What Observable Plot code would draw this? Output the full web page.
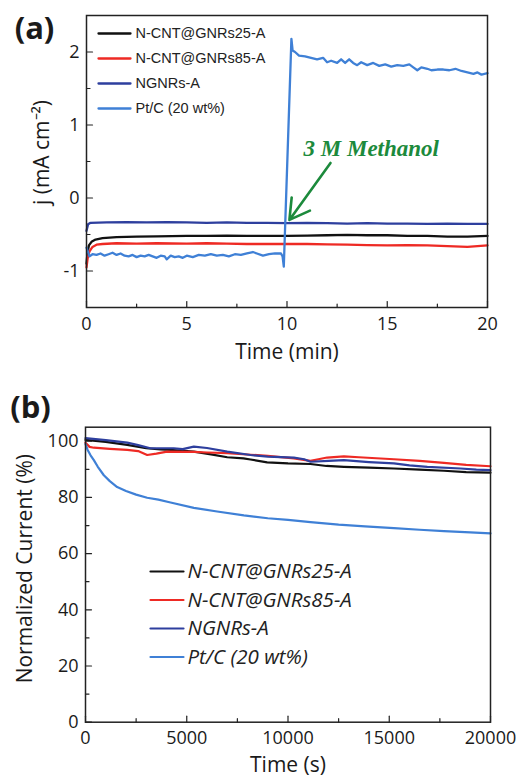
<!DOCTYPE html>
<html><head><meta charset="utf-8">
<script src="https://cdn.jsdelivr.net/npm/d3@7"></script>
<script src="https://cdn.jsdelivr.net/npm/@observablehq/plot@0.6"></script>
<style>body{margin:0;background:#fff;} svg{display:block;}</style>
</head><body><div id="chart"></div>
<script>
// ---------- shared ----------
const seriesNames = ["N-CNT@GNRs25-A", "N-CNT@GNRs85-A", "NGNRs-A", "Pt/C (20 wt%)"];
const seriesColors = ["#111111", "#ee2a24", "#2e3f9e", "#3f80d6"];

// ---------- panel (a): j (mA cm-2) vs Time (min) ----------
const a_cnt25 = [[0,-0.9],[0.05,-0.75],[0.12,-0.65],[0.25,-0.6],[0.45,-0.57],[0.8,-0.55],[1.5,-0.535],[2.5,-0.53],[3.5,-0.525],[5,-0.52],[6,-0.52],[7,-0.515],[8,-0.52],[9,-0.52],[10,-0.52],[11,-0.515],[12,-0.51],[13,-0.505],[14,-0.51],[15,-0.51],[16,-0.52],[17,-0.52],[18,-0.53],[19,-0.53],[20,-0.52]];
const a_cnt85 = [[0,-0.95],[0.06,-0.82],[0.15,-0.73],[0.3,-0.67],[0.5,-0.64],[0.8,-0.63],[1.5,-0.62],[2.5,-0.625],[3.5,-0.62],[5,-0.625],[6,-0.62],[7,-0.625],[8,-0.63],[9,-0.63],[10,-0.63],[11,-0.63],[12,-0.635],[13,-0.64],[14,-0.645],[15,-0.65],[16,-0.645],[17,-0.65],[18,-0.66],[19,-0.67],[19.5,-0.66],[20,-0.65]];
const a_ngnrs = [[0,-0.45],[0.08,-0.36],[0.2,-0.34],[1,-0.335],[2,-0.33],[3,-0.335],[4,-0.33],[5,-0.335],[6,-0.34],[7,-0.335],[8,-0.34],[9,-0.34],[10,-0.345],[11,-0.34],[12,-0.345],[13,-0.35],[14,-0.345],[15,-0.35],[16,-0.35],[17,-0.355],[18,-0.35],[19,-0.355],[20,-0.355]];
const a_ptc = [[0,-0.68],[0.15,-0.8],[0.3,-0.77],[0.5,-0.78],[0.7,-0.76],[0.9,-0.79],[1.1,-0.77],[1.3,-0.75],[1.5,-0.78],[1.7,-0.76],[1.9,-0.79],[2.1,-0.8],[2.3,-0.78],[2.5,-0.81],[2.7,-0.79],[2.9,-0.8],[3.1,-0.78],[3.3,-0.8],[3.5,-0.82],[3.7,-0.79],[3.9,-0.8],[4.0,-0.84],[4.2,-0.79],[4.4,-0.81],[4.6,-0.8],[4.8,-0.82],[5.0,-0.79],[5.3,-0.81],[5.6,-0.78],[5.9,-0.79],[6.2,-0.77],[6.5,-0.79],[6.8,-0.78],[7.1,-0.8],[7.4,-0.77],[7.7,-0.78],[8.0,-0.76],[8.3,-0.74],[8.5,-0.76],[8.8,-0.79],[9.1,-0.77],[9.4,-0.76],[9.7,-0.76],[9.78,-0.8],[9.84,-0.94],[10.22,2.18],[10.28,2.02],[10.4,2.0],[10.6,1.95],[10.9,1.94],[11.2,1.92],[11.5,1.9],[11.8,1.92],[12.0,1.86],[12.2,1.88],[12.5,1.85],[12.7,1.9],[12.9,1.85],[13.1,1.9],[13.3,1.85],[13.5,1.82],[13.7,1.86],[14.0,1.82],[14.3,1.85],[14.6,1.81],[14.9,1.83],[15.2,1.8],[15.5,1.82],[15.8,1.81],[16.1,1.83],[16.3,1.79],[16.5,1.75],[16.7,1.79],[17.0,1.77],[17.2,1.75],[17.5,1.76],[17.8,1.76],[18.1,1.75],[18.4,1.77],[18.7,1.74],[19.0,1.72],[19.3,1.7],[19.5,1.72],[19.7,1.69],[20,1.71]];
const aXDomain = [0, 20], aYDomain = [-1.5, 2.5];
const aXTicks = [0, 5, 10, 15, 20], aXMinor = [2.5, 7.5, 12.5, 17.5];
const aYTicks = [-1, 0, 1, 2], aYMinor = [-0.5, 0.5, 1.5];
const aNote = ["3 M Methanol"], aNoteX = [14.2], aNoteY = [0.68];
const aArrowFrom = [12.17, 0.48], aArrowTo = [10.12, -0.30];

// ---------- panel (b): Normalized Current (%) vs Time (s) ----------
const b_cnt25 = [[0,100.5],[1000,99.8],[2060,98.7],[3000,97.5],[3700,97.1],[4500,96.8],[5350,96.3],[6200,95.3],[7000,94.3],[7800,93.9],[8150,93.5],[8970,92.5],[10000,92.1],[11110,91.9],[11900,91.2],[12760,90.9],[14000,90.6],[15230,90.3],[16500,89.9],[17700,89.5],[18800,89.0],[20000,88.8]];
const b_cnt85 = [[0,99.5],[200,98],[412,97.7],[1200,97.3],[2060,96.9],[2600,96.5],[3045,95.1],[3500,95.6],[4030,96.3],[5350,96.2],[6000,96.0],[7000,95.8],[8150,95.2],[9000,94.8],[10290,93.9],[11110,93.0],[11500,93.6],[11930,94.2],[12760,94.6],[13500,94.3],[15230,93.6],[16500,93.0],[17700,92.3],[18800,91.6],[20000,91.1]];
const b_ngnrs = [[0,101.1],[1000,100.4],[2060,99.5],[2600,98.6],[3200,97.5],[4360,97.5],[4800,97.2],[5350,98.1],[6000,97.6],[7000,96.3],[8150,95.1],[9000,94.5],[10290,94.2],[10800,93.6],[11110,92.7],[12000,93.0],[12760,93.3],[14000,92.6],[15230,92.1],[16000,91.4],[16880,90.9],[18530,90.3],[19300,89.9],[20000,89.7]];
const b_ptc = [[0,99],[100,97],[250,95],[412,93.3],[600,91],[905,87.9],[1200,85.8],[1564,83.7],[2000,82.3],[2500,81],[3045,79.9],[3600,79.2],[4200,78.2],[5350,76.3],[6500,75],[7820,73.6],[9000,72.6],[10000,72],[11110,71.2],[12500,70.3],[13800,69.7],[15230,69.1],[16500,68.5],[17700,68],[19000,67.6],[20000,67.2]];
const bXDomain = [0, 20000], bYDomain = [0, 105];
const bXTicks = [0, 5000, 10000, 15000, 20000], bXMinor = [2500, 7500, 12500, 17500];
const bYTicks = [0, 20, 40, 60, 80, 100], bYMinor = [10, 30, 50, 70, 90];

// ---------- helpers ----------
const seg = {draw(ctx, l) { ctx.moveTo(0, 0); ctx.lineTo(0, -l); }};
const toRows = (arrs) => arrs.flatMap((arr, i) => arr.map(([t, v]) => ({series: seriesNames[i], t, v})));
const fmt = d => String(d);
const FONT = "'Open Sans', sans-serif";
const mid = {textAnchor: "middle", lineAnchor: "middle"};

function tickMarks(xMaj, xMin, yMaj, yMin) {
  const o = {shape: seg, anchor: "start", stroke: "#222", strokeWidth: 1.2};
  return [
    Plot.vector(xMaj, {...o, x: d => d, frameAnchor: "bottom", rotate: 0, length: 6}),
    Plot.vector(xMin, {...o, x: d => d, frameAnchor: "bottom", rotate: 0, length: 3.5}),
    Plot.vector(yMaj, {...o, y: d => d, frameAnchor: "left", rotate: 90, length: 6}),
    Plot.vector(yMin, {...o, y: d => d, frameAnchor: "left", rotate: 90, length: 3.5})
  ];
}

// ---------- plot (a) ----------
const dataA = toRows([a_cnt25, a_cnt85, a_ngnrs, a_ptc]);
const plotA = Plot.plot({
  width: 518, height: 375,
  marginLeft: 86, marginRight: 31, marginTop: 15, marginBottom: 68,
  style: {fontFamily: FONT, fontSize: "18px", color: "#1a1a1a", background: "#fff"},
  x: {domain: aXDomain},
  y: {domain: aYDomain},
  color: {domain: seriesNames, range: seriesColors},
  marks: [
    Plot.line(dataA, {x: "t", y: "v", z: "series", stroke: "series", strokeWidth: 2.3}),
    Plot.arrow([0], {x1: () => aArrowFrom[0], y1: () => aArrowFrom[1], x2: () => aArrowTo[0], y2: () => aArrowTo[1], stroke: "#1c8a3c", strokeWidth: 2.6, headLength: 13}),
    Plot.text(aNote, {x: (d, i) => aNoteX[i], y: (d, i) => aNoteY[i], text: d => d, ...mid, fill: "#1c8a3c", fontFamily: "'Liberation Serif', serif", fontStyle: "italic", fontWeight: "bold", fontSize: 23}),
    ...seriesNames.map((name, i) => Plot.vector([0], {frameAnchor: "top-left", dx: 12, dy: 18 + i * 25, rotate: 90, length: 32, anchor: "start", shape: seg, stroke: seriesColors[i], strokeWidth: 2.3})),
    ...seriesNames.map((name, i) => Plot.text([name], {frameAnchor: "top-left", dx: 49, dy: 18 + i * 25, text: d => d, textAnchor: "start", lineAnchor: "middle", fontFamily: "'Liberation Sans', Arial, sans-serif", fontSize: 14.5, fill: "#222"})),
    ...tickMarks(aXTicks, aXMinor, aYTicks, aYMinor),
    Plot.axisX({ticks: aXTicks, tickSize: 0, tickPadding: 10, tickFormat: fmt, label: null, fontSize: 18}),
    Plot.axisY({ticks: aYTicks, tickSize: 0, tickPadding: 7, tickFormat: fmt, label: null, fontSize: 18}),
    Plot.text(["Time (min)"], {frameAnchor: "bottom", dy: 45, text: d => d, ...mid, fontSize: 21}),
    Plot.text(["j (mA cm⁻²)"], {frameAnchor: "left", dx: -44, dy: -9, rotate: -90, text: d => d, ...mid, fontSize: 21}),
    Plot.text(["(a)"], {frameAnchor: "top-left", dx: -52, dy: 14, text: d => d, ...mid, fontSize: 31, fontWeight: "bold"}),
    Plot.frame({stroke: "#222", strokeWidth: 1.5})
  ]
});

// ---------- plot (b) ----------
const dataB = toRows([b_cnt25, b_cnt85, b_ngnrs, b_ptc]);
const plotB = Plot.plot({
  width: 518, height: 404,
  marginLeft: 85, marginRight: 28, marginTop: 51.7, marginBottom: 57.3,
  style: {fontFamily: FONT, fontSize: "18px", color: "#1a1a1a", background: "#fff"},
  x: {domain: bXDomain},
  y: {domain: bYDomain},
  color: {domain: seriesNames, range: seriesColors},
  marks: [
    Plot.line(dataB, {x: "t", y: "v", z: "series", stroke: "series", strokeWidth: 2.2}),
    ...seriesNames.map((name, i) => Plot.vector([0], {frameAnchor: "top-left", dx: 65, dy: 144.3 + i * 28.5, rotate: 90, length: 33, anchor: "start", shape: seg, stroke: seriesColors[i], strokeWidth: 2.2})),
    ...seriesNames.map((name, i) => Plot.text([name], {frameAnchor: "top-left", dx: 102, dy: 144.3 + i * 28.5, text: d => d, textAnchor: "start", lineAnchor: "middle", fontStyle: "italic", fontSize: 20.5, fill: "#222"})),
    ...tickMarks(bXTicks, bXMinor, bYTicks, bYMinor),
    Plot.axisX({ticks: bXTicks, tickSize: 0, tickPadding: 9, tickFormat: fmt, label: null, fontSize: 18}),
    Plot.axisY({ticks: bYTicks, tickSize: 0, tickPadding: 7, tickFormat: fmt, label: null, fontSize: 18}),
    Plot.text(["Time (s)"], {frameAnchor: "bottom", dy: 43, text: d => d, ...mid, fontSize: 21}),
    Plot.text(["Normalized Current (%)"], {frameAnchor: "left", dx: -60, dy: -6, rotate: -90, text: d => d, ...mid, fontSize: 21}),
    Plot.text(["(b)"], {frameAnchor: "top-left", dx: -55, dy: -18.7, text: d => d, ...mid, fontSize: 31, fontWeight: "bold"}),
    Plot.frame({stroke: "#222", strokeWidth: 1.5})
  ]
});

const root = document.getElementById("chart");
root.append(plotA, plotB);
</script></body></html>
